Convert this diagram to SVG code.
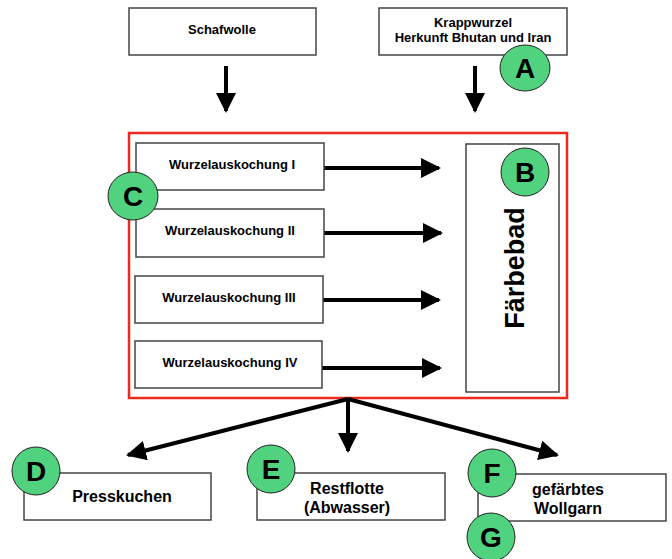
<svg xmlns="http://www.w3.org/2000/svg" width="672" height="559" viewBox="0 0 672 559">
<defs>
<style>
.box{fill:#fff;stroke:#444;stroke-width:1.5}
.t{font-family:"Liberation Sans",Arial,sans-serif;font-weight:bold;font-size:13px;fill:#000;text-anchor:middle}
.t2{font-family:"Liberation Sans",Arial,sans-serif;font-weight:bold;font-size:16px;fill:#000;text-anchor:middle}
.badge{fill:#50d27f;stroke:#222;stroke-width:1}
.bl{font-family:"Liberation Sans",Arial,sans-serif;font-weight:bold;font-size:28px;fill:#000;text-anchor:middle}
.ln{stroke:#000;stroke-width:4;fill:none}
</style>
<marker id="ah" markerWidth="5" markerHeight="5" refX="4.5" refY="2.5" orient="auto" markerUnits="strokeWidth" viewBox="0 0 5 5">
<path d="M0,0 L5,2.5 L0,5 Z" fill="#000"/>
</marker>
</defs>
<rect width="672" height="559" fill="#fff"/>
<g id="frame"><rect x="129" y="133" width="438" height="265" fill="none" stroke="#f0281e" stroke-width="2.5"/></g>
<g id="connectors">
<line class="ln" x1="226" y1="66" x2="226" y2="111" marker-end="url(#ah)"/>
<line class="ln" x1="475" y1="66" x2="475" y2="111" marker-end="url(#ah)"/>
<line class="ln" x1="324" y1="168" x2="439" y2="168" marker-end="url(#ah)"/>
<line class="ln" x1="324" y1="233" x2="441" y2="233" marker-end="url(#ah)"/>
<line class="ln" x1="323" y1="300" x2="439" y2="300" marker-end="url(#ah)"/>
<line class="ln" x1="322" y1="368" x2="440" y2="368" marker-end="url(#ah)"/>
<line class="ln" x1="348" y1="399" x2="348" y2="451" marker-end="url(#ah)"/>
<line class="ln" x1="348" y1="399" x2="128" y2="455" marker-end="url(#ah)"/>
<line class="ln" x1="348" y1="399" x2="557" y2="455" marker-end="url(#ah)"/>
</g>
<g id="schafwolle"><rect class="box" x="129" y="8" width="187" height="47"/><text class="t" x="222" y="34">Schafwolle</text></g>
<g id="krappwurzel"><rect class="box" x="379" y="8" width="188" height="47"/><text class="t" x="473" y="27">Krappwurzel</text><text class="t" x="473" y="42">Herkunft Bhutan und Iran</text></g>
<g id="w1"><rect class="box" x="136" y="143" width="188" height="47"/><text class="t" x="232" y="169">Wurzelauskochung I</text></g>
<g id="w2"><rect class="box" x="136" y="209" width="188" height="48"/><text class="t" x="230" y="235">Wurzelauskochung II</text></g>
<g id="w3"><rect class="box" x="135" y="276" width="188" height="47"/><text class="t" x="229" y="302">Wurzelauskochung III</text></g>
<g id="w4"><rect class="box" x="135" y="341" width="187" height="47"/><text class="t" x="230" y="367">Wurzelauskochung IV</text></g>
<g id="faerbebad"><rect class="box" x="466" y="144" width="93" height="248"/><text class="bl" transform="translate(524,268) rotate(-90)" style="font-size:27px">Färbebad</text></g>
<g id="presskuchen"><rect class="box" x="24" y="473" width="187" height="47"/><text class="t2" x="122" y="502">Presskuchen</text></g>
<g id="restflotte"><rect class="box" x="257" y="473" width="188" height="47"/><text class="t2" x="347" y="494">Restflotte</text><text class="t2" x="347" y="513">(Abwasser)</text></g>
<g id="wollgarn"><rect class="box" x="478" y="474" width="188" height="47"/><text class="t2" x="568" y="495">gefärbtes</text><text class="t2" x="568" y="514">Wollgarn</text></g>
<g id="badgeA"><ellipse class="badge" cx="525" cy="68" rx="25" ry="23"/><text class="bl" x="525" y="78">A</text></g>
<g id="badgeB"><ellipse class="badge" cx="525" cy="172" rx="24" ry="24"/><text class="bl" x="525" y="182">B</text></g>
<g id="badgeC"><ellipse class="badge" cx="133" cy="196" rx="25" ry="24"/><text class="bl" x="133" y="206">C</text></g>
<g id="badgeD"><ellipse class="badge" cx="36" cy="471" rx="24" ry="24"/><text class="bl" x="36" y="481">D</text></g>
<g id="badgeE"><ellipse class="badge" cx="271" cy="469" rx="24" ry="24"/><text class="bl" x="271" y="479">E</text></g>
<g id="badgeF"><ellipse class="badge" cx="492" cy="473" rx="24" ry="24"/><text class="bl" x="492" y="483">F</text></g>
<g id="badgeG"><ellipse class="badge" cx="491" cy="537" rx="24" ry="24"/><text class="bl" x="491" y="547">G</text></g>
</svg>
